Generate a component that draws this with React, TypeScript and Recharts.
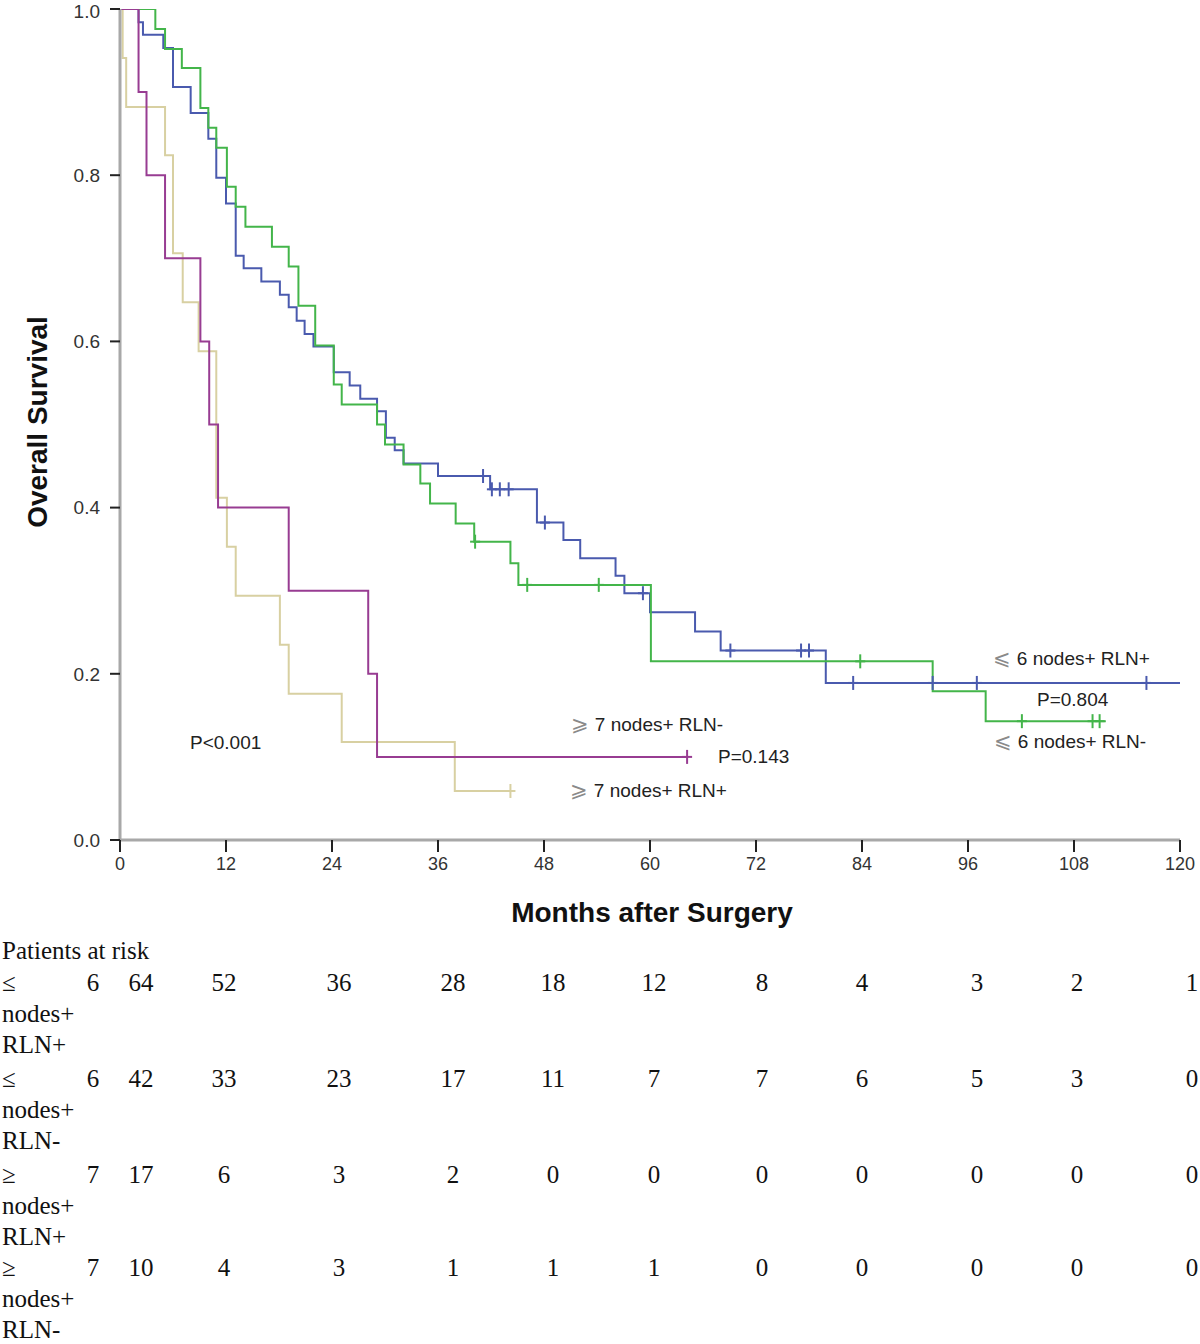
import React from 'react';
import { ComposedChart, Line, XAxis, YAxis } from 'recharts';

// ≤6 nodes+ RLN+ (n=64)
const blueTimes = [0, 2.1, 2.6, 4.9, 6.0, 8.0, 10.0, 10.9, 12.0, 13.1, 14.0, 16.0, 18.1, 19.1, 20.0, 20.9, 21.9, 24.2, 26.0, 27.2, 29.1, 30.1, 31.1, 32.1, 36.0, 41.9, 47.2, 50.2, 52.1, 56.1, 57.1, 60.0, 65.1, 68.0, 79.9, 120];
const blueSurv = [1, 0.984, 0.969, 0.953, 0.906, 0.875, 0.844, 0.797, 0.766, 0.703, 0.688, 0.672, 0.656, 0.641, 0.625, 0.609, 0.594, 0.563, 0.547, 0.531, 0.516, 0.484, 0.469, 0.453, 0.438, 0.422, 0.382, 0.361, 0.339, 0.318, 0.297, 0.274, 0.251, 0.228, 0.189, 0.189];
const blueCensorTimes = [41.1, 42.1, 43.0, 44.0, 48.1, 59.2, 69.1, 77.1, 78.0, 83.0, 92.0, 97.0, 116.2];
const blueCensorSurv = [0.438, 0.422, 0.422, 0.422, 0.382, 0.297, 0.228, 0.228, 0.228, 0.189, 0.189, 0.189, 0.189];

// ≤6 nodes+ RLN- (n=42)
const greenTimes = [0, 4.0, 5.1, 7.0, 9.1, 10.0, 10.9, 12.1, 13.1, 14.2, 17.2, 19.1, 20.2, 22.1, 24.2, 25.1, 29.1, 30.0, 32.1, 34.0, 35.1, 38.0, 40.1, 44.2, 45.1, 60.1, 92.0, 98.0, 111.6];
const greenSurv = [1, 0.976, 0.952, 0.929, 0.881, 0.857, 0.833, 0.786, 0.762, 0.738, 0.714, 0.69, 0.643, 0.595, 0.548, 0.524, 0.5, 0.476, 0.452, 0.429, 0.405, 0.381, 0.359, 0.333, 0.307, 0.215, 0.179, 0.143, 0.143];
const greenCensorTimes = [40.2, 46.1, 54.2, 83.8, 102.1, 110.1, 110.9];
const greenCensorSurv = [0.359, 0.307, 0.307, 0.215, 0.143, 0.143, 0.143];

// ≥7 nodes+ RLN- (n=10)
const purpleTimes = [0, 2.1, 3.0, 5.1, 9.1, 10.1, 11.1, 19.1, 28.1, 29.1, 64.2];
const purpleSurv = [1, 0.9, 0.8, 0.7, 0.6, 0.5, 0.4, 0.3, 0.2, 0.1, 0.1];
const purpleCensorTimes = [64.2];
const purpleCensorSurv = [0.1];

// ≥7 nodes+ RLN+ (n=17)
const khakiTimes = [0, 0.3, 0.7, 5.1, 6.0, 7.1, 8.9, 10.9, 12.1, 13.1, 18.1, 19.1, 25.1, 37.9, 44.2];
const khakiSurv = [1, 0.941, 0.882, 0.824, 0.706, 0.647, 0.588, 0.412, 0.353, 0.294, 0.235, 0.176, 0.118, 0.059, 0.059];
const khakiCensorTimes = [44.2];
const khakiCensorSurv = [0.059];

const xTicks = [0, 12, 24, 36, 48, 60, 72, 84, 96, 108, 120];
const yTicks = [0, 0.2, 0.4, 0.6, 0.8, 1.0];

const riskGroupLines = [
  ['≤', 'nodes+', 'RLN+'],
  ['≤', 'nodes+', 'RLN-'],
  ['≥', 'nodes+', 'RLN+'],
  ['≥', 'nodes+', 'RLN-'],
];
const riskCutoffs = ['6', '6', '7', '7'];
const riskCounts = [
  [64, 52, 36, 28, 18, 12, 8, 4, 3, 2, 1],
  [42, 33, 23, 17, 11, 7, 7, 6, 5, 3, 0],
  [17, 6, 3, 2, 0, 0, 0, 0, 0, 0, 0],
  [10, 4, 3, 1, 1, 1, 0, 0, 0, 0, 0],
];

const BLUE = '#4a5aae';
const GREEN = '#43b54a';
const PURPLE = '#983c92';
const KHAKI = '#d8d0a2';

// layout of the at-risk table (typed text, not tied to the axis)
const riskColX = [141, 224, 339, 453, 553, 654, 762, 862, 977, 1077, 1192];
const riskRowY = [991, 1087, 1183, 1276];
const riskLineGap = 31;

const toPoints = (ts: number[], ss: number[]) => ts.map((t, i) => ({ t, s: ss[i] }));

const censorDot = (color: string) => (props: any) => {
  const { cx, cy, index } = props;
  if (cx == null || cy == null) return <g key={`c-${index}`} />;
  return (
    <g key={`c-${index}`}>
      <line x1={cx} x2={cx} y1={cy - 7} y2={cy + 7} stroke={color} strokeWidth={2} />
      <line x1={cx - 5} x2={cx + 5} y1={cy} y2={cy} stroke={color} strokeWidth={2} />
    </g>
  );
};

const series = [
  { name: 'blue', color: BLUE, curve: toPoints(blueTimes, blueSurv), censor: toPoints(blueCensorTimes, blueCensorSurv) },
  { name: 'green', color: GREEN, curve: toPoints(greenTimes, greenSurv), censor: toPoints(greenCensorTimes, greenCensorSurv) },
  { name: 'khaki', color: KHAKI, curve: toPoints(khakiTimes, khakiSurv), censor: toPoints(khakiCensorTimes, khakiCensorSurv) },
  { name: 'purple', color: PURPLE, curve: toPoints(purpleTimes, purpleSurv), censor: toPoints(purpleCensorTimes, purpleCensorSurv) },
];

const sans = 'Liberation Sans, Arial, sans-serif';
const serif = 'Liberation Serif, Times New Roman, serif';

const Note = ({ x, y, sym, text }: { x: number; y: number; sym?: string; text: string }) => (
  <text x={x} y={y} fontFamily={sans} fontSize={19} fill="#222">
    {sym && <tspan fill="#8a8a8a" fontSize={21}>{sym} </tspan>}
    {text}
  </text>
);

export default function App() {
  return (
    <div style={{ position: 'absolute', left: 0, top: 0, width: 1200, height: 1344, background: '#fff' }}>
      <ComposedChart width={1200} height={930} margin={{ top: 9, right: 20, left: 0, bottom: 0 }}>
        <XAxis
          type="number"
          dataKey="t"
          domain={[0, 120]}
          ticks={xTicks}
          allowDataOverflow
          height={90}
          axisLine={{ stroke: '#a8a8a8', strokeWidth: 3 }}
          tickLine={{ stroke: '#222', strokeWidth: 2 }}
          tickSize={12}
          tickMargin={5}
          tick={{ fill: '#333', fontSize: 18, fontFamily: sans }}
        />
        <YAxis
          type="number"
          domain={[0, 1]}
          ticks={yTicks}
          width={120}
          allowDataOverflow
          tickFormatter={(v: number) => v.toFixed(1)}
          axisLine={{ stroke: '#a8a8a8', strokeWidth: 3 }}
          tickLine={{ stroke: '#222', strokeWidth: 2 }}
          tickSize={10}
          tickMargin={10}
          tick={{ fill: '#333', fontSize: 19, fontFamily: sans }}
        />
        {series.map((s) => (
          <Line
            key={s.name}
            data={s.curve}
            dataKey="s"
            type="stepAfter"
            stroke={s.color}
            strokeWidth={2}
            dot={false}
            activeDot={false}
            isAnimationActive={false}
          />
        ))}
        {series.map((s) => (
          <Line
            key={`${s.name}-censor`}
            data={s.censor}
            dataKey="s"
            stroke="none"
            dot={censorDot(s.color)}
            activeDot={false}
            isAnimationActive={false}
          />
        ))}
      </ComposedChart>

      <svg width={1200} height={1344} style={{ position: 'absolute', left: 0, top: 0, pointerEvents: 'none' }}>
        <text x={37} y={422} transform="rotate(-90 37 422)" textAnchor="middle" dominantBaseline="central" fontFamily={sans} fontWeight="bold" fontSize={28} fill="#111">
          Overall Survival
        </text>
        <text x={652} y={922} textAnchor="middle" fontFamily={sans} fontWeight="bold" fontSize={28} fill="#111">
          Months after Surgery
        </text>

        <Note x={190} y={749} text="P<0.001" />
        <Note x={571} y={731} sym="⩾" text="7 nodes+ RLN-" />
        <Note x={718} y={763} text="P=0.143" />
        <Note x={570} y={797} sym="⩾" text="7 nodes+ RLN+" />
        <Note x={993} y={665} sym="⩽" text="6 nodes+ RLN+" />
        <Note x={1037} y={706} text="P=0.804" />
        <Note x={994} y={748} sym="⩽" text="6 nodes+ RLN-" />

        <text x={2} y={959} fontFamily={serif} fontSize={25} fill="#111">Patients at risk</text>
        {riskCounts.map((row, r) => (
          <g key={`row-${r}`}>
            {riskGroupLines[r].map((line, li) => (
              <text key={li} x={2} y={riskRowY[r] + li * riskLineGap} fontFamily={serif} fontSize={25} fill="#111">
                {line}
              </text>
            ))}
            <text x={93} y={riskRowY[r]} textAnchor="middle" fontFamily={serif} fontSize={25} fill="#111">
              {riskCutoffs[r]}
            </text>
            {row.map((n, c) => (
              <text key={c} x={riskColX[c]} y={riskRowY[r]} textAnchor="middle" fontFamily={serif} fontSize={25} fill="#111">
                {n}
              </text>
            ))}
          </g>
        ))}
      </svg>
    </div>
  );
}
